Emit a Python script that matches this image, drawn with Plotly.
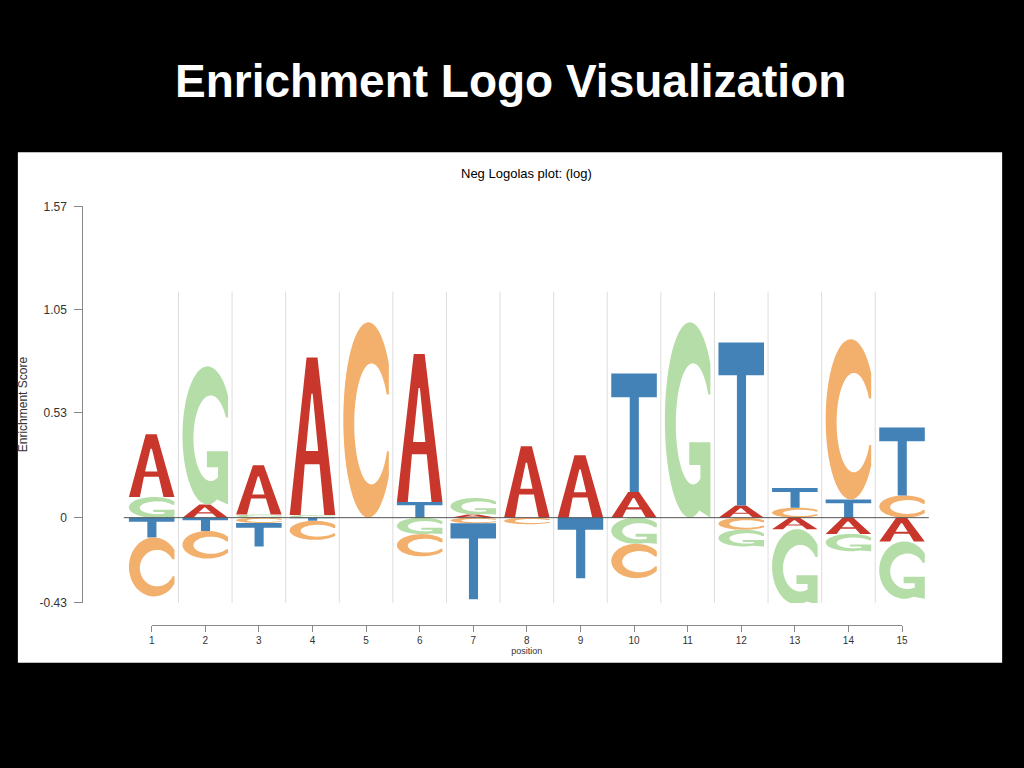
import numpy as np
import plotly.graph_objects as go

# ---------------- data ----------------
positions = list(range(1, 16))
letters = ["A", "C", "G", "T"]

A_pos = [0.317, 0.066, 0.248, 0.795, 0.0, 0.746, 0.016, 0.360, 0.315, 0.129, 0.0, 0.061, 0.0, 0.0, 0.0]
C_pos = [0.0, 0.0, 0.0, 0.0, 0.985, 0.0, 0.0, 0.0, 0.0, 0.0, 0.0, 0.0, 0.050, 0.809, 0.112]
G_pos = [0.104, 0.697, 0.016, 0.013, 0.0, 0.0, 0.083, 0.0, 0.0, 0.0, 0.985, 0.0, 0.0, 0.0, 0.0]
T_pos = [0.0, 0.0, 0.0, 0.0, 0.0, 0.079, 0.0, 0.0, 0.0, 0.598, 0.0, 0.822, 0.099, 0.091, 0.342]

A_neg = [0.0, 0.0, 0.0, 0.0, 0.0, 0.0, 0.0, 0.0, 0.0, 0.0, 0.0, 0.0, 0.058, 0.082, 0.120]
C_neg = [0.297, 0.139, 0.027, 0.096, 0.0, 0.112, 0.028, 0.033, 0.0, 0.173, 0.0, 0.061, 0.0, 0.0, 0.0]
G_neg = [0.0, 0.0, 0.0, 0.0, 0.0, 0.083, 0.0, 0.0, 0.0, 0.132, 0.0, 0.084, 0.379, 0.087, 0.289]
T_neg = [0.100, 0.067, 0.118, 0.016, 0.0, 0.0, 0.384, 0.0, 0.305, 0.0, 0.0, 0.0, 0.0, 0.0, 0.0]

y_tickvals = [-0.43, 0, 0.53, 1.05, 1.57]
y_ticktext = ["-0.43", "0", "0.53", "1.05", "1.57"]

main_title = "Enrichment Logo Visualization"
plot_title = "Neg Logolas plot: (log)"
y_title = "Enrichment Score"
x_title = "position"

colors = {"A": "#C9372C", "C": "#F2B06C", "G": "#B5DDA8", "T": "#4382B7"}

pos_vals = {"A": A_pos, "C": C_pos, "G": G_pos, "T": T_pos}
neg_vals = {"A": A_neg, "C": C_neg, "G": G_neg, "T": T_neg}

# ---------------- glyphs (unit box) ----------------
def arc(cx, cy, rx, ry, t0, t1, n=48):
    t = np.radians(np.linspace(t0, t1, n))
    return list(zip(cx + rx * np.cos(t), cy + ry * np.sin(t)))

OCX, OCY, ORX, ORY = 0.55, 0.5, 0.55, 0.5
ICX, ICY, IRX, IRY = 0.62, 0.48, 0.38, 0.31
t_top = np.degrees(np.arccos((1 - OCX) / ORX))


def inner_angle_for_y(yv):
    return np.degrees(np.arcsin((yv - ICY) / IRY))


def glyph_C():
    pts = arc(OCX, OCY, ORX, ORY, t_top, 360 - t_top)
    pts.append((1.0, 0.34))
    tb = inner_angle_for_y(0.34)
    tt = inner_angle_for_y(0.63)
    pts += arc(ICX, ICY, IRX, IRY, tb, tt - 360)
    pts.append((1.0, 0.63))
    return [pts]


def glyph_G():
    pts = arc(OCX, OCY, ORX, ORY, t_top, 292)
    pts += [(1.0, 0.0), (1.0, 0.386), (0.535, 0.386), (0.535, 0.27), (0.78, 0.27)]
    tb = -np.degrees(np.arccos((0.78 - ICX) / IRX))
    tt = inner_angle_for_y(0.63)
    pts += arc(ICX, ICY, IRX, IRY, tb, tt - 360)
    pts.append((1.0, 0.63))
    return [pts]


def glyph_A():
    outer = [(0, 0), (0.37, 1), (0.61, 1), (1, 0), (0.76, 0), (0.655, 0.323),
             (0.33, 0.323), (0.24, 0)]
    hole = [(0.355, 0.406), (0.625, 0.406), (0.505, 0.77), (0.475, 0.77)]
    return [outer, hole]


def glyph_T():
    return [[(0, 1), (1, 1), (1, 0.8), (0.605, 0.8), (0.605, 0), (0.405, 0),
             (0.405, 0.8), (0, 0.8)]]


GLYPHS = {"A": glyph_A(), "C": glyph_C(), "G": glyph_G(), "T": glyph_T()}
HALF_W = 0.425


def glyph_path(letter, xc, y0, h):
    parts = []
    for poly in GLYPHS[letter]:
        seg = []
        for i, (u, v) in enumerate(poly):
            x = xc - HALF_W + 2 * HALF_W * u
            y = y0 + h * v
            seg.append(("M" if i == 0 else "L") + f"{x:.4f},{y:.5f}")
        parts.append(" ".join(seg) + " Z")
    return " ".join(parts)


# ---------------- layout geometry ----------------
W, H = 1024, 768
fx = lambda p: p / W
fy = lambda p: 1 - p / H

px_first, px_last = 150, 907
scale = (px_last - px_first) / (positions[-1] - positions[0])
main_px_l, main_px_r = 81, 940
x_lo = positions[0] - (px_first - main_px_l) / scale
x_hi = positions[0] + (main_px_r - px_first) / scale

shapes = []
# white panel
shapes.append(dict(type="rect", xref="paper", yref="paper", x0=fx(15), x1=fx(1008),
                   y0=fy(668), y1=fy(148), fillcolor="white", line=dict(width=0),
                   layer="below"))
# column separators
sep_top = 1.14
for p in positions[:-1]:
    shapes.append(dict(type="line", xref="x", yref="y", x0=p + 0.5, x1=p + 0.5,
                       y0=y_tickvals[0], y1=sep_top,
                       line=dict(color="#DDDDDD", width=1), layer="below"))

# letters
for i, p in enumerate(positions):
    pos_list = sorted([(pos_vals[l][i], l) for l in letters if pos_vals[l][i] > 0])
    y = 0.0
    for v, l in pos_list:
        shapes.append(dict(type="path", xref="x", yref="y", path=glyph_path(l, p, y, v),
                           fillcolor=colors[l], line=dict(width=0), fillrule="evenodd"))
        y += v
    neg_list = sorted([(neg_vals[l][i], l) for l in letters if neg_vals[l][i] > 0])
    y = 0.0
    for v, l in neg_list:
        shapes.append(dict(type="path", xref="x", yref="y", path=glyph_path(l, p, y - v, v),
                           fillcolor=colors[l], line=dict(width=0), fillrule="evenodd"))
        y -= v

# zero line
shapes.append(dict(type="line", xref="x", yref="y", x0=positions[0] - 0.52,
                   x1=positions[-1] + 0.5, y0=0, y1=0,
                   line=dict(color="#555555", width=1)))

fig = go.Figure()
fig.add_trace(go.Scatter(x=positions, y=[0] * len(positions), mode="markers",
                         marker=dict(opacity=0), hoverinfo="skip", showlegend=False,
                         xaxis="x", yaxis="y"))
fig.add_trace(go.Scatter(x=positions, y=[0] * len(positions), mode="markers",
                         marker=dict(opacity=0), hoverinfo="skip", showlegend=False,
                         xaxis="x2", yaxis="y2"))

axis_font = dict(family="Liberation Sans, Arial, sans-serif", size=12, color="#333333")
small_font = dict(family="Liberation Sans, Arial, sans-serif", size=10, color="#333333")
title_font_small = dict(family="Liberation Sans, Arial, sans-serif", size=9, color="#333333")

fig.update_layout(
    width=W, height=H,
    margin=dict(l=0, r=0, t=0, b=0),
    paper_bgcolor="black",
    plot_bgcolor="rgba(0,0,0,0)",
    showlegend=False,
    shapes=shapes,
    xaxis=dict(domain=[fx(main_px_l), fx(main_px_r)], range=[x_lo, x_hi],
               visible=False, fixedrange=True),
    yaxis=dict(domain=[fy(607), fy(203)], range=[y_tickvals[0], y_tickvals[-1]],
               tickvals=y_tickvals, ticktext=y_ticktext, showgrid=False, zeroline=False,
               showline=True, linecolor="#888888", linewidth=1, ticks="outside",
               ticklen=8, tickcolor="#888888", tickfont=axis_font, ticklabelstandoff=5,
               title=dict(text=y_title, font=axis_font, standoff=9), fixedrange=True),
    xaxis2=dict(domain=[fx(px_first), fx(px_last)], range=[positions[0], positions[-1]],
                anchor="y2", tickvals=positions, ticktext=[str(p) for p in positions],
                showgrid=False, zeroline=False, showline=True, linecolor="#888888",
                linewidth=1, ticks="outside", ticklen=6, tickcolor="#888888",
                tickfont=small_font, title=dict(text=x_title, font=title_font_small, standoff=3),
                fixedrange=True),
    yaxis2=dict(domain=[fy(629), fy(620)], visible=False, fixedrange=True),
    annotations=[
        dict(text=main_title, xref="paper", yref="paper", x=0.5, y=fy(75),
             xanchor="center", yanchor="middle", showarrow=False,
             font=dict(family="Liberation Sans, Arial, sans-serif", size=46,
                       color="white", weight=700)),
        dict(text=plot_title, xref="paper", yref="paper",
             x=fx((px_first + px_last) / 2), y=fy(170), xanchor="center",
             yanchor="middle", showarrow=False,
             font=dict(family="Liberation Sans, Arial, sans-serif", size=13,
                       color="black")),
    ],
)

fig.write_html("out.html")
